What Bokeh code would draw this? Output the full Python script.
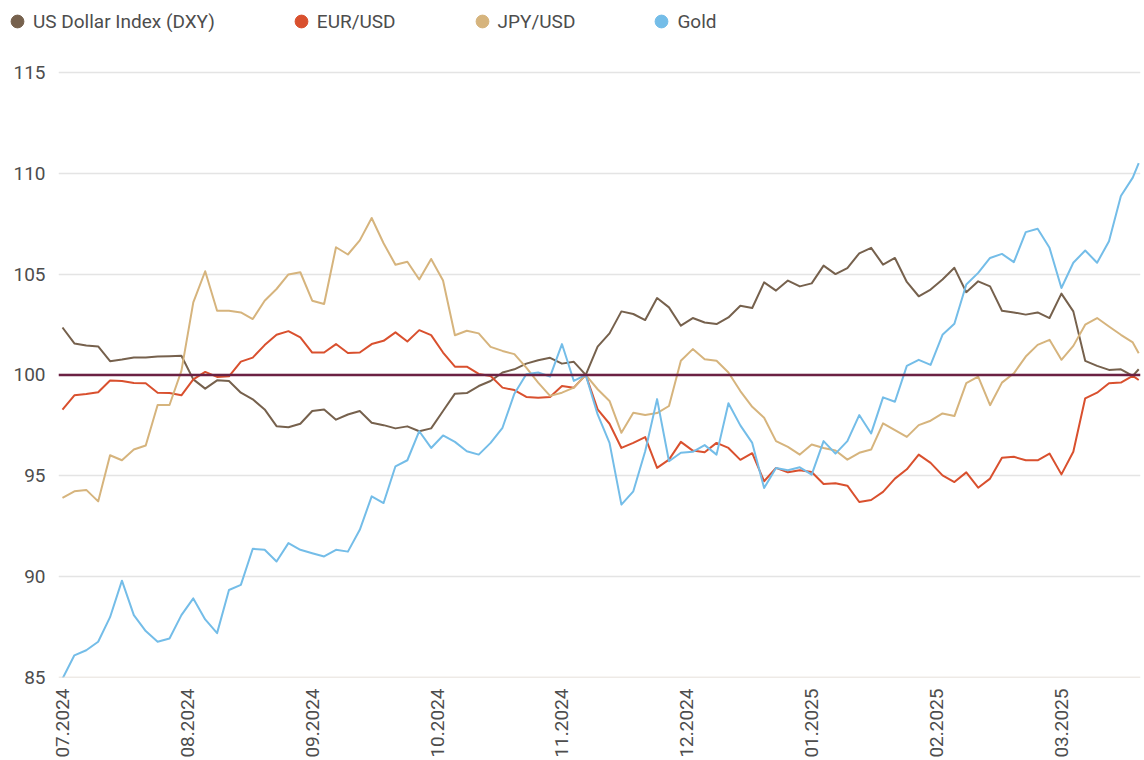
import math
from bokeh.plotting import figure
from bokeh.layouts import column
from bokeh.models import ColumnDataSource, Span, Legend, LegendItem, FixedTicker, Range1d
from bokeh.embed import file_html
from bokeh.resources import INLINE

# trading-session number (every second session, plus the last one)
session = list(range(0, 181, 2)) + [181]

dxy = [102.35, 101.56, 101.46, 101.41, 100.68, 100.76, 100.86, 100.86, 100.91, 100.93,
       100.95, 99.78, 99.32, 99.73, 99.70, 99.12, 98.79, 98.29, 97.46, 97.41,
       97.58, 98.21, 98.29, 97.78, 98.04, 98.21, 97.63, 97.51, 97.35, 97.45,
       97.21, 97.35, 98.21, 99.07, 99.10, 99.45, 99.70, 100.12, 100.28, 100.56,
       100.73, 100.85, 100.56, 100.65, 100.00, 101.40, 102.06, 103.15, 103.02, 102.72,
       103.81, 103.35, 102.44, 102.82, 102.60, 102.52, 102.85, 103.43, 103.32, 104.59,
       104.18, 104.68, 104.39, 104.54, 105.42, 105.00, 105.30, 106.03, 106.30, 105.47,
       105.80, 104.61, 103.90, 104.23, 104.73, 105.31, 104.10, 104.64, 104.39, 103.18,
       103.10, 102.99, 103.10, 102.82, 104.03, 103.15, 100.70, 100.45, 100.25, 100.28,
       99.95, 100.28]

eur = [98.28, 98.99, 99.05, 99.14, 99.72, 99.70, 99.60, 99.59, 99.12, 99.10,
       98.99, 99.78, 100.15, 99.90, 99.93, 100.66, 100.86, 101.48, 101.99, 102.17,
       101.86, 101.11, 101.11, 101.53, 101.09, 101.11, 101.53, 101.69, 102.11, 101.66,
       102.22, 101.97, 101.11, 100.41, 100.41, 100.05, 99.95, 99.37, 99.25, 98.91,
       98.87, 98.91, 99.45, 99.37, 100.00, 98.29, 97.58, 96.38, 96.63, 96.92,
       95.39, 95.80, 96.68, 96.25, 96.17, 96.63, 96.38, 95.79, 96.12, 94.73,
       95.39, 95.17, 95.27, 95.19, 94.59, 94.63, 94.51, 93.70, 93.80, 94.20,
       94.86, 95.32, 96.05, 95.64, 95.02, 94.69, 95.17, 94.41, 94.86, 95.89,
       95.94, 95.77, 95.77, 96.10, 95.07, 96.19, 98.84, 99.12, 99.59, 99.62,
       99.95, 99.75]

jpy = [93.90, 94.23, 94.30, 93.73, 96.02, 95.77, 96.30, 96.50, 98.51, 98.51,
       100.20, 103.60, 105.14, 103.18, 103.18, 103.10, 102.77, 103.68, 104.26, 104.98,
       105.09, 103.68, 103.52, 106.33, 105.97, 106.67, 107.78, 106.53, 105.46, 105.61,
       104.73, 105.75, 104.68, 101.97, 102.19, 102.06, 101.39, 101.19, 101.03, 100.36,
       99.62, 98.96, 99.12, 99.37, 100.00, 99.29, 98.71, 97.13, 98.13, 98.01,
       98.11, 98.46, 100.70, 101.28, 100.78, 100.70, 100.12, 99.20, 98.42, 97.88,
       96.72, 96.43, 96.05, 96.55, 96.38, 96.25, 95.80, 96.14, 96.30, 97.60,
       97.26, 96.93, 97.51, 97.73, 98.09, 97.96, 99.59, 99.92, 98.50, 99.62,
       100.08, 100.91, 101.49, 101.74, 100.75, 101.44, 102.49, 102.82, 102.40, 101.99,
       101.61, 101.08]

gold = [84.94, 86.10, 86.35, 86.77, 87.99, 89.80, 88.09, 87.30, 86.77, 86.93,
        88.09, 88.92, 87.88, 87.20, 89.34, 89.59, 91.38, 91.33, 90.75, 91.66,
        91.33, 91.16, 91.00, 91.33, 91.24, 92.32, 93.98, 93.65, 95.47, 95.77,
        97.21, 96.38, 97.00, 96.68, 96.22, 96.05, 96.63, 97.38, 99.07, 100.03,
        100.12, 99.92, 101.53, 99.70, 100.00, 98.04, 96.63, 93.57, 94.23, 96.22,
        98.80, 95.72, 96.14, 96.19, 96.52, 96.05, 98.60, 97.50, 96.63, 94.39,
        95.39, 95.27, 95.42, 95.06, 96.72, 96.10, 96.72, 98.01, 97.10, 98.89,
        98.67, 100.45, 100.75, 100.50, 101.99, 102.54, 104.48, 105.06, 105.80, 106.00,
        105.59, 107.08, 107.25, 106.30, 104.31, 105.56, 106.17, 105.56, 106.63, 108.87,
        109.78, 110.50]

series_names = ["US Dollar Index (DXY)", "EUR/USD", "JPY/USD", "Gold"]
month_labels = ["07.2024", "08.2024", "09.2024", "10.2024", "11.2024",
                "12.2024", "01.2025", "02.2025", "03.2025"]
month_sessions = [0, 21, 42, 63, 84, 105, 126, 147, 168]
y_ticks = [85, 90, 95, 100, 105, 110, 115]
base_level = 100

colors = ["#76614d", "#d9502e", "#d6b47d", "#74bde8"]
FONT = "Roboto"
TEXT_COLOR = "#4d4d4d"
keys = ["dxy", "eur", "jpy", "gold"]

src = ColumnDataSource(dict(session=session, dxy=dxy, eur=eur, jpy=jpy, gold=gold))

# ---- main chart ----
p = figure(width=1144, height=718, output_backend="svg", toolbar_location=None,
           x_range=Range1d(-0.67, 181.3), y_range=Range1d(85, 116.48),
           min_border_left=58, min_border_right=4, min_border_top=0, min_border_bottom=83)
p.frame_align = False
p.outline_line_color = None
p.background_fill_color = "white"
p.border_fill_color = "white"

p.xgrid.visible = False
p.ygrid.grid_line_color = "#e4e4e4"
p.ygrid.grid_line_width = 1.5

for ax in (p.xaxis[0], p.yaxis[0]):
    ax.axis_line_color = None
    ax.major_tick_line_color = None
    ax.minor_tick_line_color = None
    ax.major_tick_out = 0
    ax.major_tick_in = 0
    ax.minor_tick_out = 0
    ax.minor_tick_in = 0
    ax.major_label_text_font = FONT
    ax.major_label_text_font_size = "19px"
    ax.major_label_text_color = TEXT_COLOR

p.yaxis.ticker = FixedTicker(ticks=y_ticks)
p.yaxis.major_label_standoff = 13

p.xaxis.ticker = FixedTicker(ticks=month_sessions)
p.xaxis.major_label_overrides = {s: l for s, l in zip(month_sessions, month_labels)}
p.xaxis.major_label_orientation = math.pi / 2
p.xaxis.major_label_standoff = 11

p.add_layout(Span(location=85, dimension="width", line_color="#ddd6ce", line_width=1.5))

for key, col in zip(keys, colors):
    p.line(x="session", y=key, source=src, line_color=col, line_width=2, line_join="round")

p.add_layout(Span(location=base_level, dimension="width", line_color="#6b2143", line_width=2.5))

# ---- legend strip ----
lf = figure(width=1144, height=42, output_backend="svg", toolbar_location=None,
            x_range=Range1d(-0.67, 181.3), y_range=Range1d(85, 116.48),
            x_axis_location=None, y_axis_location=None,
            min_border_left=0, min_border_right=0, min_border_top=0, min_border_bottom=0)
lf.frame_align = False
lf.outline_line_color = None
lf.xgrid.visible = False
lf.ygrid.visible = False
lf.background_fill_color = "white"
lf.border_fill_color = "white"

items = []
for key, name, col in zip(keys, series_names, colors):
    r = lf.scatter(x="session", y=key, source=src, marker="circle", size=12,
                   fill_color=col, line_color=col, visible=False)
    items.append(LegendItem(label=name, renderers=[r]))

legend = Legend(items=items, location=(1, 5), orientation="horizontal",
                glyph_width=32, glyph_height=32, label_standoff=-2, spacing=70,
                padding=0, margin=0, border_line_color=None, background_fill_alpha=0,
                label_text_font=FONT, label_text_font_size="19px",
                label_text_color=TEXT_COLOR)
lf.add_layout(legend)

layout = column(lf, p, spacing=0)
open("out.html", "w").write(file_html(layout, INLINE))
